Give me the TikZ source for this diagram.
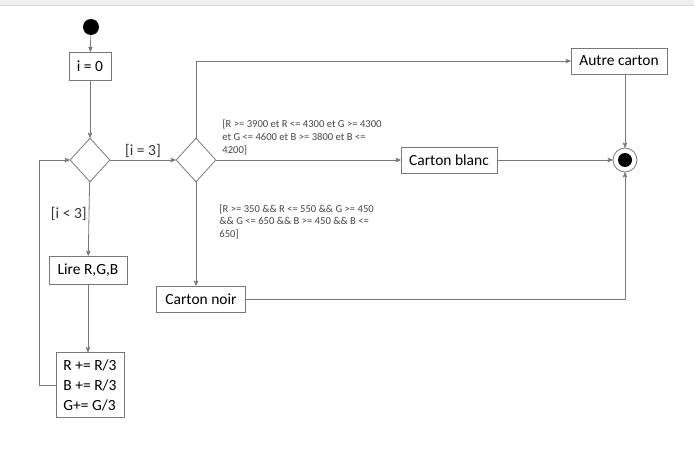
\documentclass[tikz,border=0pt]{standalone}
\usepackage{fontspec}
\setmainfont{Carlito}
\usetikzlibrary{shapes.geometric}
\usetikzlibrary{positioning}
\usetikzlibrary{arrows}

\definecolor{linegray}{RGB}{120,120,120}
\definecolor{textgray}{RGB}{70,70,70}
\definecolor{bargray}{RGB}{239,239,239}

\begin{document}
\begin{tikzpicture}[x=1pt,y=-1pt,->,>=stealth',line width=0.8pt,draw=linegray,
		action node/.style={rectangle,draw=linegray,font=\fontsize{15.5}{20}\selectfont,inner sep=0pt,minimum height=26pt},
		choice node/.style={diamond,draw=linegray,inner sep=0pt,minimum width=40pt,minimum height=44pt},
		guard/.style={font=\fontsize{10.6}{12.7}\selectfont,text=textgray,align=left,inner sep=0pt},
		cond/.style={font=\fontsize{15.5}{18}\selectfont,text=black!80,inner sep=2pt}]
		
		\useasboundingbox (0,0) rectangle (694,460);
		\fill[bargray,draw=none] (0,0) rectangle (694,5);
		\draw[-,draw=black!15,line width=0.6pt] (0,5.5) -- (694,5.5);
		
		\node[circle,fill=black,inner sep=0pt,minimum size=16pt] (start) at (91,27) {};
		\node[action node, minimum width=42pt, minimum height=28pt] (init) at (90,66) {i = 0};
		\node[choice node] (test) at (90,160) {};
		\node[choice node] (tri) at (196,160) {};
		\node[action node, minimum width=78pt, minimum height=28pt] (lire) at (88,270) {Lire R,G,B};
		\node[action node, minimum width=68pt, minimum height=65pt, align=left] (maj) at (90,385) {R += R/3\\B += R/3\\G+= G/3};
		\node[action node, minimum width=96pt] (autre) at (619,61) {Autre carton};
		\node[action node, minimum width=96pt] (blanc) at (449,160) {Carton blanc};
		\node[action node, minimum width=89pt] (noir) at (201,299) {Carton noir};
		\node[circle,draw=linegray,fill=white,inner sep=0pt,minimum size=24pt] (fin) at (625,160) {};
		\fill[black] (fin) circle (7pt);
		
		% boucle de lecture
		\draw (start) -- (init);
		\draw (init) -- (test);
		\draw (test) -- node[cond,pos=0.43,left] {[i < 3]} (lire);
		\draw (lire.south) -- (lire.south |- maj.north);
		\draw (maj.west) -- ++(-16,0) |- (test.west);
		\draw (test) -- node[cond,above] {[i = 3]} (tri);
		
		% tri des cartons
		\draw (tri.north) |- (autre.west);
		\draw (tri.east) -- (blanc.west);
		\node[guard,anchor=south west] (gblanc) at (222,155) {[R >= 3900 et R <= 4300 et G >= 4300\\et G <= 4600 et B >= 3800 et B <=\\4200]};
		\draw (tri.south) -- (tri.south |- noir.north);
		\node[guard,anchor=north west] (gnoir) at (219,204) {[R >= 350 \&\& R <= 550 \&\& G >= 450\\\&\& G <= 650 \&\& B >= 450 \&\& B <=\\650]};
		
		\draw (autre.south -| fin) -- (fin.north);
		\draw (blanc.east) -- (fin.west);
		\draw (noir.east) -| (fin.south);
\end{tikzpicture}
\end{document}
